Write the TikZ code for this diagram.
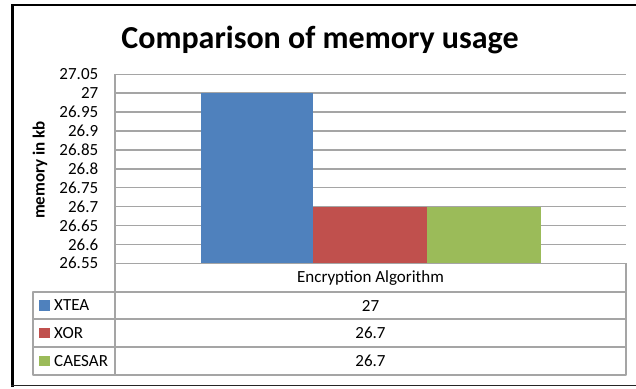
\documentclass[tikz,border=0pt]{standalone}
\usepackage{fontspec}
\setmainfont{Carlito}
\definecolor{xteablue}{HTML}{4F81BD}
\definecolor{xorred}{HTML}{C0504D}
\definecolor{caesargreen}{HTML}{9BBB59}
\definecolor{gridgray}{HTML}{A5A5A5}
\begin{document}
\begin{tikzpicture}[x=1pt, y=-1pt, line join=round, >=stealth]
\tikzset{every node/.style={inner sep=0pt, text=black, font=\fontsize{17}{17}\selectfont},
  grid/.style={gridgray, line width=1.5pt},
  tabline/.style={gridgray, line width=1.2pt}}
\def\xl{115}\def\xr{626}\def\ybot{263.3}\def\dy{18.9}
\useasboundingbox (0,0) rectangle (636,388);
% frame
\draw[line width=3pt] (12.5,4.5)--(12.5,387);
\draw[line width=2pt] (11,5)--(636,5);
\draw[line width=1.5pt, black!85] (11,385.5)--(636,385.5);
\node[font=\fontsize{32}{32}\selectfont\bfseries, anchor=base] (title) at (320,48.5) {Comparison of memory usage};
\node[font=\fontsize{17}{17}\selectfont\bfseries, rotate=90] (ylabel) at (40,170) {memory in kb};
% gridlines and ticks
\foreach \v [count=\i from 0] in {26.55,26.6,26.65,26.7,26.75,26.8,26.85,26.9,26.95,27,27.05}
  \draw[grid] (\xl,\ybot-\i*\dy)--(\xr,\ybot-\i*\dy) node[pos=0, anchor=east, xshift=-16pt] (tick\i) {\v};
% bars
\fill[xteablue] (200.7,{\ybot-9*\dy}) rectangle (313.3,\ybot);
\fill[xorred] (313.3,{\ybot-3*\dy}) rectangle (427,\ybot);
\fill[caesargreen] (427,{\ybot-3*\dy}) rectangle (540.7,\ybot);
\draw[grid] (\xl,\ybot)--(\xr,\ybot);
% data table
\draw[tabline] (\xl,74.3)--(\xl,375);
\draw[tabline] (\xr,\ybot)--(\xr,375) (33,292) rectangle (\xr,375);
\foreach \y in {319,347} \draw[tabline] (33,\y)--(\xr,\y);
\node (cat) at (370.5,278) {Encryption Algorithm};
\foreach \name/\col/\val/\y [count=\i] in {XTEA/xteablue/27/305.5, XOR/xorred/26.7/333, CAESAR/caesargreen/26.7/361} {
  \fill[\col] (39,\y-5.5) rectangle (50,\y+5);
  \node[anchor=west] (key\i) at (54,\y) {\name};
  \node (val\i) at (370.5,\y) {\val};
}
\end{tikzpicture}
\end{document}
